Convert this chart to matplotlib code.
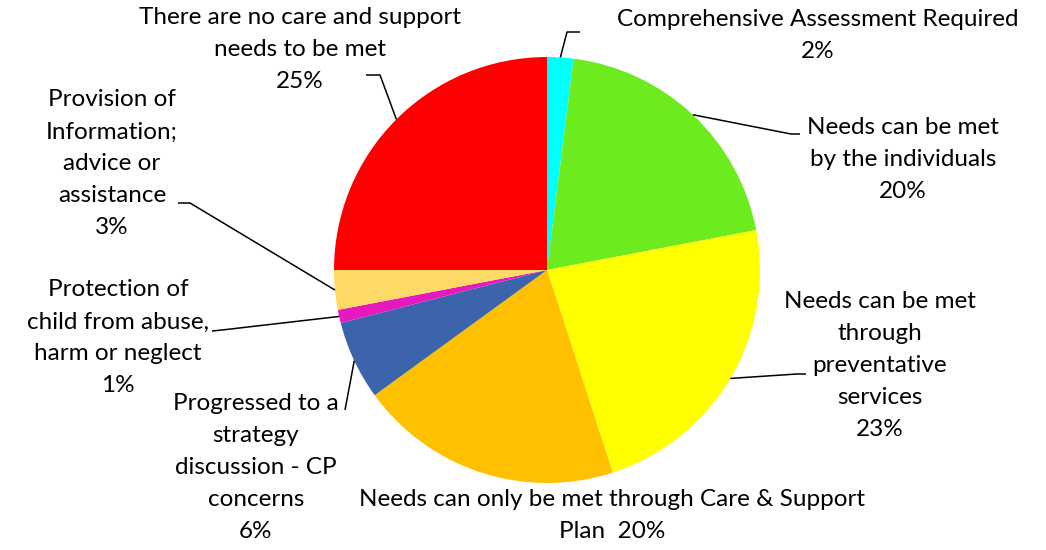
import numpy as np
import matplotlib
matplotlib.use("Agg")
import matplotlib.pyplot as plt

labels = [
    "Comprehensive Assessment Required\n2%",
    "Needs can be met\nby the individuals\n20%",
    "Needs can be met\nthrough\npreventative\nservices\n23%",
    "Needs can only be met through Care & Support\nPlan  20%",
    "Progressed to a\nstrategy\ndiscussion - CP\nconcerns\n6%",
    "Protection of\nchild from abuse,\nharm or neglect\n1%",
    "Provision of\nInformation;\nadvice or\nassistance\n3%",
    "There are no care and support\nneeds to be met\n25%",
]
values = [2, 20, 23, 20, 6, 1, 3, 25]
colors = ["#00FFFF", "#6EEB1E", "#FFFF00", "#FFC000", "#3C64AA", "#E619BE", "#FFD966", "#FF0000"]

W, H = 1046, 550
fig = plt.figure(figsize=(W / 100, H / 100), dpi=100)
ax = fig.add_axes([0, 0, 1, 1])
ax.set_aspect("equal")
ax.axis("off")

cx, cy, r = 547, H - 270, 213
wedges, _ = ax.pie(values, colors=colors, startangle=90, counterclock=False,
                   center=(cx, cy), radius=r, wedgeprops=dict(linewidth=0))
ax.set_xlim(0, W)
ax.set_ylim(0, H)

# label anchor (x center, y of first line in px), elbow point, end of horizontal
label_pos = [(818, 20), (903, 128), (880, 302), (612, 500), (256, 403), (118, 290), (112, 100), (300, 18)]
elbows = [((567, 32), (580, 32)), ((791, 134), (800, 134)), ((797, 374), (806, 374)), None,
          ((345, 410), None), ((222, 330), (212, 331)), ((190, 203), (178, 203)), ((380, 75), (366, 75))]

font = dict(family=["Lato", "DejaVu Sans"], fontsize=17.5, color="black")
for lab, (lx, ly) in zip(labels, label_pos):
    for i, ln in enumerate(lab.split("\n")):
        ax.text(lx, H - (ly + 32 * i), ln, ha="center", va="center", **font)

cum = np.cumsum([0] + values[:-1])
total = sum(values)
for v, c0, el in zip(values, cum, elbows):
    if el is None:
        continue
    mid = (c0 + v / 2) / total * 2 * np.pi
    sx, sy = cx + r * np.sin(mid), cy + r * np.cos(mid)
    (ex, ey), end = el
    xs, ys = [sx, ex], [sy, H - ey]
    if end is not None:
        xs.append(end[0]); ys.append(H - end[1])
    ax.plot(xs, ys, color="black", lw=1.1, solid_capstyle="butt")

fig.savefig("out.png", dpi=100)
